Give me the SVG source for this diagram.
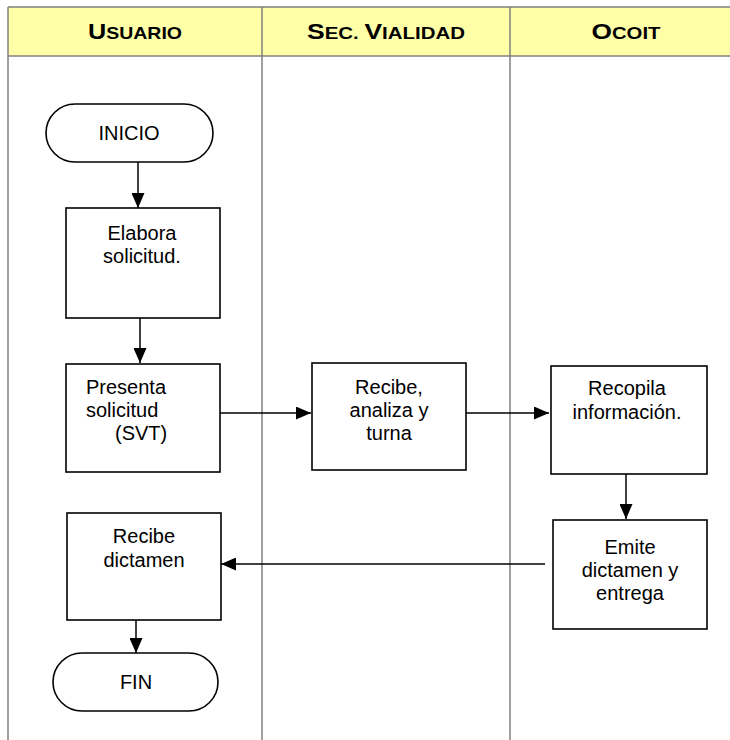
<svg xmlns="http://www.w3.org/2000/svg" width="730" height="740" viewBox="0 0 730 740">
<style>
.grid{stroke:#808080;stroke-width:1.5;fill:none}
.hdr{fill:#ffffa8;stroke:none}
.ht{font-family:"Liberation Sans",Arial,sans-serif;font-weight:bold;fill:#000}
.big{font-size:22px}
.sm{font-size:17px}
.box{fill:#fff;stroke:#000;stroke-width:1.6}
.t{font-family:"Liberation Sans",Arial,sans-serif;font-size:20px;fill:#000}
.c{text-anchor:middle}
.conn{stroke:#000;stroke-width:1.5;fill:none;marker-end:url(#ah)}
</style>
<defs>
<marker id="ah" markerWidth="15" markerHeight="13" refX="15" refY="6.5" orient="auto" markerUnits="userSpaceOnUse">
<path d="M0,0 L15,6.5 L0,13 Z" fill="#000"/>
</marker>
</defs>
<rect width="730" height="740" fill="#fff"/>
<g id="table">
<rect class="hdr" x="8" y="7" width="722" height="49"/>
<path class="grid" d="M8,7 H730 M8,56 H730 M8,7 V740 M262,7 V740 M510,7 V740"/>
<text class="ht" x="135" y="39" text-anchor="middle" textLength="94" lengthAdjust="spacingAndGlyphs"><tspan class="big">U</tspan><tspan class="sm">SUARIO</tspan></text>
<text class="ht" x="386" y="39" text-anchor="middle" textLength="158" lengthAdjust="spacingAndGlyphs"><tspan class="big">S</tspan><tspan class="sm">EC. </tspan><tspan class="big">V</tspan><tspan class="sm">IALIDAD</tspan></text>
<text class="ht" x="626" y="39" text-anchor="middle" textLength="69" lengthAdjust="spacingAndGlyphs"><tspan class="big">O</tspan><tspan class="sm">COIT</tspan></text>
</g>
<g id="connectors">
<line class="conn" x1="138" y1="162" x2="138" y2="208"/>
<line class="conn" x1="140" y1="318" x2="140" y2="363"/>
<line class="conn" x1="220" y1="413" x2="311" y2="413"/>
<line class="conn" x1="466" y1="413" x2="549" y2="413"/>
<line class="conn" x1="626" y1="474" x2="626" y2="519"/>
<line class="conn" x1="545" y1="564" x2="221" y2="564"/>
<line class="conn" x1="136" y1="620" x2="136" y2="653"/>
</g>
<g id="inicio">
<rect class="box" x="46" y="104" width="167" height="58" rx="29"/>
<text class="t c" x="129" y="140">INICIO</text>
</g>
<g id="elabora">
<rect class="box" x="66" y="208" width="154" height="110"/>
<text class="t c" x="142" y="240">Elabora</text>
<text class="t c" x="142" y="263">solicitud.</text>
</g>
<g id="presenta">
<rect class="box" x="66" y="364" width="154" height="108"/>
<text class="t" x="86" y="394">Presenta</text>
<text class="t" x="86" y="417">solicitud</text>
<text class="t" x="115" y="440">(SVT)</text>
</g>
<g id="recibe">
<rect class="box" x="312" y="363" width="154" height="107"/>
<text class="t c" x="389" y="394">Recibe,</text>
<text class="t c" x="389" y="417">analiza y</text>
<text class="t c" x="389" y="440">turna</text>
</g>
<g id="recopila">
<rect class="box" x="551" y="366" width="156" height="108"/>
<text class="t c" x="627" y="395">Recopila</text>
<text class="t c" x="627" y="419">información.</text>
</g>
<g id="emite">
<rect class="box" x="553" y="520" width="154" height="109"/>
<text class="t c" x="630" y="554">Emite</text>
<text class="t c" x="630" y="577">dictamen y</text>
<text class="t c" x="630" y="600">entrega</text>
</g>
<g id="recibe-dictamen">
<rect class="box" x="67" y="513" width="154" height="107"/>
<text class="t c" x="144" y="543">Recibe</text>
<text class="t c" x="144" y="567">dictamen</text>
</g>
<g id="fin">
<rect class="box" x="53" y="653" width="165" height="58" rx="29"/>
<text class="t c" x="136" y="689">FIN</text>
</g>
</svg>
